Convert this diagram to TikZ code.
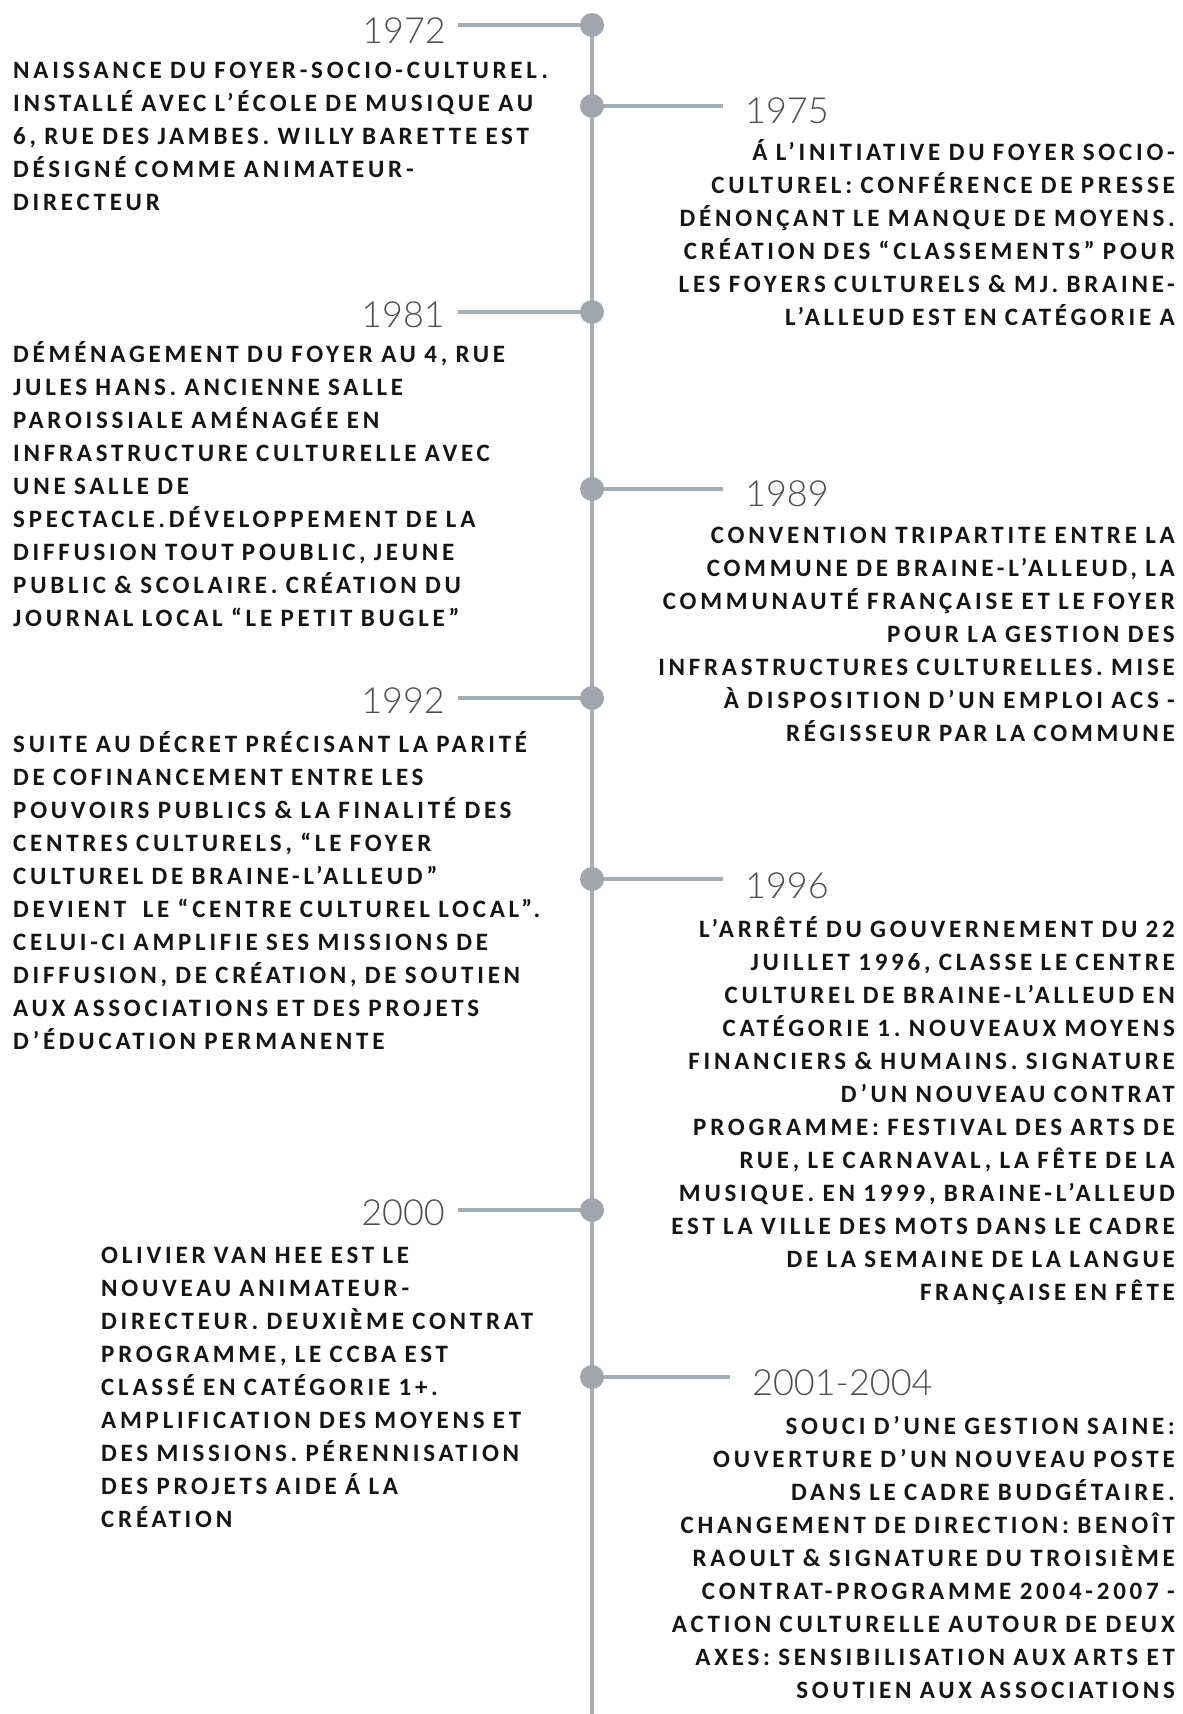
\documentclass[tikz,border=0pt]{standalone}
\usepackage{fontspec}
\setmainfont{Carlito}
\newfontfamily\bodyfont[LetterSpace=15]{Carlito}
\newfontfamily\yearfont[UprightFont=* Light]{Lato}
\definecolor{linegray}{HTML}{A7ADB5}
\definecolor{dotgray}{HTML}{A0A6AE}
\definecolor{yeargray}{HTML}{4F4F4F}
\definecolor{txt}{HTML}{151515}
\frenchspacing
\begin{document}
\begin{tikzpicture}[x=1pt,y=-1pt,
  dot/.style={circle,fill=dotgray,minimum size=24pt,inner sep=0pt},
  conn/.style={draw=linegray,line width=3.5pt},
  spine/.style={draw=linegray,line width=4pt},
  yearL/.style={anchor=base east,inner sep=0pt,font=\yearfont\fontsize{36}{40}\selectfont,text=yeargray},
  yearR/.style={anchor=base west,inner sep=0pt,font=\yearfont\fontsize{36}{40}\selectfont,text=yeargray},
  blockL/.style={anchor=base west,inner sep=0pt,text width=600pt,align=left,font=\bodyfont\bfseries\fontsize{25}{33}\selectfont\frenchspacing,text=txt},
  blockR/.style={anchor=base east,inner sep=0pt,text width=600pt,align=right,font=\bodyfont\bfseries\fontsize{25}{33}\selectfont\frenchspacing,text=txt}]
\useasboundingbox (0,0) rectangle (1183,1714);
\fill[white] (0,0) rectangle (1183,1714);

\coordinate (bottom) at (592,1714);
% centres of the timeline events
\coordinate (p1972) at (592,25);
\coordinate (p1975) at (592,106);
\coordinate (p1981) at (592,312);
\coordinate (p1989) at (592,489);
\coordinate (p1992) at (592,698);
\coordinate (p1996) at (592,879);
\coordinate (p2000) at (592,1210);
\coordinate (p2001) at (592,1377);

\draw[spine] (p1972) -- (bottom);

% connector ends
\coordinate (c1972) at (458,25);
\coordinate (c1975) at (723,106);
\coordinate (c1981) at (458,312);
\coordinate (c1989) at (723,489);
\coordinate (c1992) at (458,698);
\coordinate (c1996) at (723,879);
\coordinate (c2000) at (458,1210);
\coordinate (c2001) at (730,1377);
\draw[conn] (p1972) -- (c1972);
\draw[conn] (p1975) -- (c1975);
\draw[conn] (p1981) -- (c1981);
\draw[conn] (p1989) -- (c1989);
\draw[conn] (p1992) -- (c1992);
\draw[conn] (p1996) -- (c1996);
\draw[conn] (p2000) -- (c2000);
\draw[conn] (p2001) -- (c2001);

\node[dot] (d1972) at (p1972) {};
\node[dot] (d1975) at (p1975) {};
\node[dot] (d1981) at (p1981) {};
\node[dot] (d1989) at (p1989) {};
\node[dot] (d1992) at (p1992) {};
\node[dot] (d1996) at (p1996) {};
\node[dot] (d2000) at (p2000) {};
\node[dot] (d2001) at (p2001) {};

% years
\node[yearL] (y1972) at (446,43) {1972};
\node[yearR] (y1975) at (745,123) {1975};
\node[yearL] (y1981) at (445,327.5) {1981};
\node[yearR] (y1989) at (745,506.8) {1989};
\node[yearL] (y1992) at (445,713.4) {1992};
\node[yearR] (y1996) at (745,898.2) {1996};
\node[yearL] (y2000) at (445,1225.1) {2000};
\node[yearR] (y2001) at (752,1395.6) {2001-2004};

% texts
\node[blockL] (t1972) at (13,78.6) {NAISSANCE DU FOYER-SOCIO-CULTUREL.\\
INSTALLÉ AVEC L’ÉCOLE DE MUSIQUE AU\\
6, RUE DES JAMBES. WILLY BARETTE EST\\
DÉSIGNÉ COMME ANIMATEUR-\\
DIRECTEUR};

\node[blockR] (t1975) at (1175,160.6) {Á L’INITIATIVE DU FOYER SOCIO-\\
CULTUREL: CONFÉRENCE DE PRESSE\\
DÉNONÇANT LE MANQUE DE MOYENS.\\
CRÉATION DES “CLASSEMENTS” POUR\\
LES FOYERS CULTURELS \& MJ. BRAINE-\\
L’ALLEUD EST EN CATÉGORIE A};

\node[blockL] (t1981) at (13,362.8) {DÉMÉNAGEMENT DU FOYER AU 4, RUE\\
JULES HANS. ANCIENNE SALLE\\
PAROISSIALE AMÉNAGÉE EN\\
INFRASTRUCTURE CULTURELLE AVEC\\
UNE SALLE DE\\
SPECTACLE.DÉVELOPPEMENT DE LA\\
DIFFUSION TOUT POUBLIC, JEUNE\\
PUBLIC \& SCOLAIRE. CRÉATION DU\\
JOURNAL LOCAL “LE PETIT BUGLE”};

\node[blockR] (t1989) at (1175,543.2) {CONVENTION TRIPARTITE ENTRE LA\\
COMMUNE DE BRAINE-L’ALLEUD, LA\\
COMMUNAUTÉ FRANÇAISE ET LE FOYER\\
POUR LA GESTION DES\\
INFRASTRUCTURES CULTURELLES. MISE\\
À DISPOSITION D’UN EMPLOI ACS -\\
RÉGISSEUR PAR LA COMMUNE};

\node[blockL] (t1992) at (13,752) {SUITE AU DÉCRET PRÉCISANT LA PARITÉ\\
DE COFINANCEMENT ENTRE LES\\
POUVOIRS PUBLICS \& LA FINALITÉ DES\\
CENTRES CULTURELS, “LE FOYER\\
CULTUREL DE BRAINE-L’ALLEUD”\\
DEVIENT\ \ LE “CENTRE CULTUREL LOCAL”.\\
CELUI-CI AMPLIFIE SES MISSIONS DE\\
DIFFUSION, DE CRÉATION, DE SOUTIEN\\
AUX ASSOCIATIONS ET DES PROJETS\\
D’ÉDUCATION PERMANENTE};

\node[blockR] (t1996) at (1175,937.9) {L’ARRÊTÉ DU GOUVERNEMENT DU 22\\
JUILLET 1996, CLASSE LE CENTRE\\
CULTUREL DE BRAINE-L’ALLEUD EN\\
CATÉGORIE 1. NOUVEAUX MOYENS\\
FINANCIERS \& HUMAINS. SIGNATURE\\
D’UN NOUVEAU CONTRAT\\
PROGRAMME: FESTIVAL DES ARTS DE\\
RUE, LE CARNAVAL, LA FÊTE DE LA\\
MUSIQUE. EN 1999, BRAINE-L’ALLEUD\\
EST LA VILLE DES MOTS DANS LE CADRE\\
DE LA SEMAINE DE LA LANGUE\\
FRANÇAISE EN FÊTE};

\node[blockL] (t2000) at (101,1263.7) {OLIVIER VAN HEE EST LE\\
NOUVEAU ANIMATEUR-\\
DIRECTEUR. DEUXIÈME CONTRAT\\
PROGRAMME, LE CCBA EST\\
CLASSÉ EN CATÉGORIE 1+.\\
AMPLIFICATION DES MOYENS ET\\
DES MISSIONS. PÉRENNISATION\\
DES PROJETS AIDE Á LA\\
CRÉATION};

\node[blockR] (t2001) at (1175,1434.3) {SOUCI D’UNE GESTION SAINE:\\
OUVERTURE D’UN NOUVEAU POSTE\\
DANS LE CADRE BUDGÉTAIRE.\\
CHANGEMENT DE DIRECTION: BENOÎT\\
RAOULT \& SIGNATURE DU TROISIÈME\\
CONTRAT-PROGRAMME 2004-2007 -\\
ACTION CULTURELLE AUTOUR DE DEUX\\
AXES: SENSIBILISATION AUX ARTS ET\\
SOUTIEN AUX ASSOCIATIONS};
\end{tikzpicture}
\end{document}
